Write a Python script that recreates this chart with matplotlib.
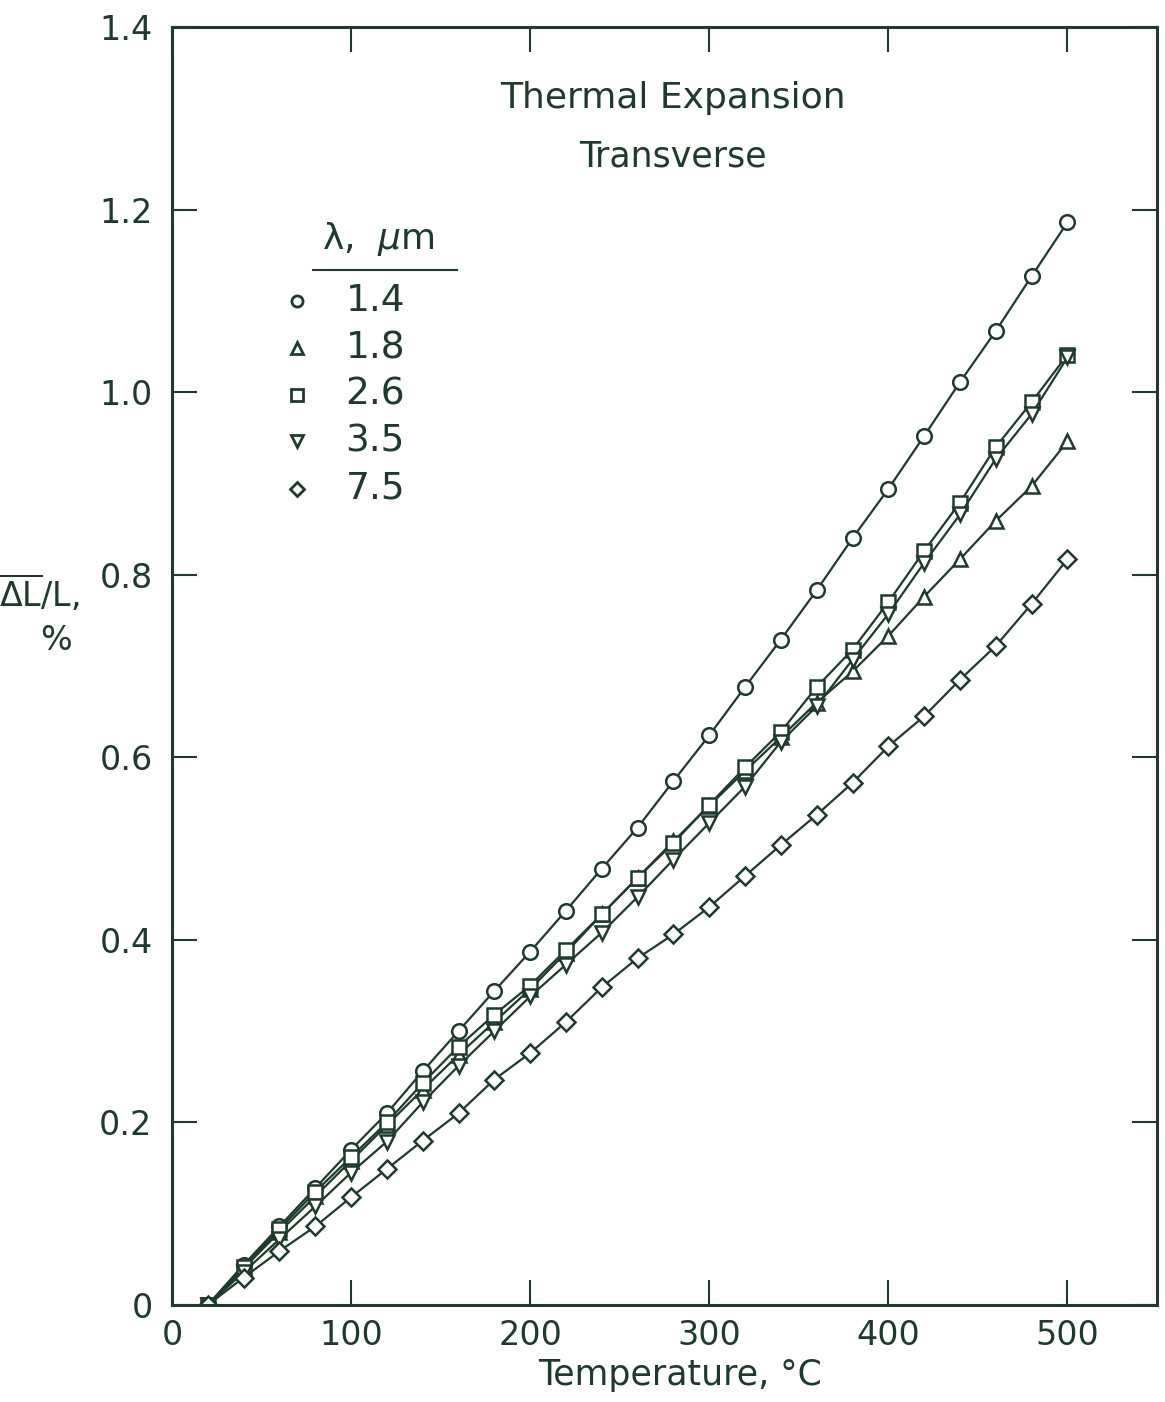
import matplotlib
matplotlib.use("Agg")
import matplotlib.pyplot as plt
import numpy as np

plt.rcParams['font.family'] = ['DejaVu Sans']
plt.rcParams['mathtext.fontset'] = 'dejavusans'

ink = "#1f3a2b"

# temperature, deg C
temp = [20, 40, 60, 80, 100, 120, 140, 160, 180, 200, 220, 240, 260,
        280, 300, 320, 340, 360, 380, 400, 420, 440, 460, 480, 500]

# mean dL/L, %  for each wavelength
dl_14 = [0, 0.044, 0.086, 0.128, 0.170, 0.210, 0.256, 0.300, 0.344, 0.387, 0.432, 0.478, 0.523,
         0.574, 0.624, 0.677, 0.729, 0.783, 0.840, 0.894, 0.952, 1.011, 1.067, 1.127, 1.186]
dl_18 = [0, 0.040, 0.080, 0.119, 0.158, 0.197, 0.236, 0.274, 0.310, 0.346, 0.386, 0.428, 0.468,
         0.508, 0.547, 0.585, 0.622, 0.660, 0.694, 0.733, 0.776, 0.817, 0.859, 0.897, 0.946]
dl_26 = [0, 0.042, 0.083, 0.124, 0.162, 0.200, 0.243, 0.283, 0.318, 0.350, 0.389, 0.428, 0.468,
         0.506, 0.548, 0.589, 0.628, 0.677, 0.718, 0.770, 0.826, 0.879, 0.940, 0.989, 1.041]
dl_35 = [0, 0.036, 0.072, 0.108, 0.145, 0.179, 0.222, 0.262, 0.300, 0.338, 0.373, 0.408, 0.447,
         0.488, 0.528, 0.568, 0.617, 0.656, 0.707, 0.757, 0.813, 0.866, 0.927, 0.976, 1.038]
dl_75 = [0, 0.030, 0.059, 0.086, 0.118, 0.149, 0.180, 0.210, 0.247, 0.276, 0.310, 0.348, 0.380,
         0.406, 0.436, 0.470, 0.504, 0.537, 0.572, 0.612, 0.645, 0.685, 0.722, 0.768, 0.817]

wavelengths = ["1.4", "1.8", "2.6", "3.5", "7.5"]
markers = ["o", "^", "s", "v", "D"]
series = [dl_14, dl_18, dl_26, dl_35, dl_75]

fig = plt.figure(figsize=(11.65, 14.02), dpi=100)
ax = fig.add_axes([0.1476, 0.0692, 0.8455, 0.9115])

for vals, m in zip(series, markers):
    ms = 9 if m == "D" else 10.5
    ax.plot(temp, vals, color=ink, linewidth=1.6, marker=m, markersize=ms,
            markerfacecolor="white", markeredgecolor=ink, markeredgewidth=1.8)

ax.set_xlim(0, 550)
ax.set_ylim(0, 1.4)
ax.set_xticks(np.arange(0, 501, 100))
ax.set_yticks(np.arange(0, 1.41, 0.2))
ax.set_yticklabels(["0", "0.2", "0.4", "0.6", "0.8", "1.0", "1.2", "1.4"])
ax.tick_params(direction="in", length=18, width=1.5, colors=ink, labelsize=24,
               top=True, right=True)
ax.tick_params(axis="y", pad=14)
ax.tick_params(axis="x", pad=10)
for s in ax.spines.values():
    s.set_linewidth(2.2)
    s.set_color(ink)

# title inside the frame
ax.text(280, 1.322, "Thermal Expansion", ha="center", va="center", fontsize=26, color=ink)
ax.text(280, 1.258, "Transverse", ha="center", va="center", fontsize=25, color=ink)

# hand drawn legend
ax.text(115, 1.168, r"λ,  $\mu$m", ha="center", va="center", fontsize=26, color=ink)
ax.plot([79, 159], [1.134, 1.134], color=ink, linewidth=1.5)
rows = [1.100, 1.048, 0.997, 0.946, 0.894]
for lab, m, yy in zip(wavelengths, markers, rows):
    ax.plot([70], [yy], marker=m, markersize=8 if m != "D" else 7.5, color=ink,
            markerfacecolor="white", markeredgewidth=2, linestyle="none")
    ax.text(97, yy, lab, ha="left", va="center", fontsize=27, color=ink)

fig.text(0.584, 0.019, "Temperature, °C", ha="center", va="center", fontsize=25, color=ink)
fig.text(0.034, 0.577, r"$\overline{\Delta\mathrm{L}}$/L,", ha="center", va="center",
         fontsize=24, color=ink)
fig.text(0.048, 0.543, "%", ha="center", va="center", fontsize=24, color=ink)

fig.savefig("out.png", dpi=100)
